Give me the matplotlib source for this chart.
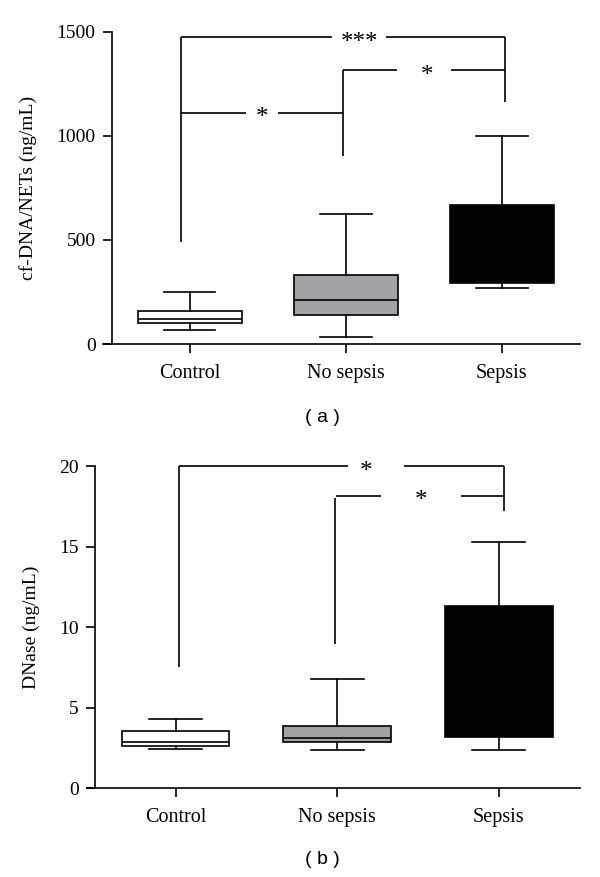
import matplotlib
matplotlib.use("Agg")
import matplotlib.pyplot as plt

# group names
groups = ["Control", "No sepsis", "Sepsis"]

# (a) cf-DNA/NETs (ng/mL): whisker low, q1, median, q3, whisker high
netsLow = [69, 33, 268]
netsQ1 = [102, 139, 293]
netsMed = [120, 212, 420]
netsQ3 = [158, 333, 666]
netsHigh = [249, 626, 1001]

# (b) DNase (ng/mL)
dnaseLow = [2.43, 2.35, 2.35]
dnaseQ1 = [2.6, 2.9, 3.21]
dnaseMed = [2.88, 3.13, 5.0]
dnaseQ3 = [3.56, 3.89, 11.31]
dnaseHigh = [4.28, 6.78, 15.26]

boxColors = ["white", "#a2a2a6", "black"]

# significance brackets: (x1, x2, y, label, text x, gap left, gap right)
netsBrackets = [(-0.054, 2.017, 1474, "***", 1.086, 0.909, 1.257),
                (0.983, 2.017, 1316, "*", 1.52, 1.331, 1.674),
                (-0.054, 0.983, 1112, "*", 0.466, 0.358, 0.566)]
# legs: (x, y top, y bottom)
netsLegs = [(-0.054, 1474, 491), (0.983, 1316, 905), (2.017, 1474, 1163)]

dnaseBrackets = [(0.024, 2.035, 20.0, "*", 1.18, 1.065, 1.415),
                 (0.994, 2.035, 18.17, "*", 1.52, 1.273, 1.763)]
dnaseLegs = [(0.024, 20.0, 7.5), (0.985, 18.0, 8.98), (2.035, 20.0, 17.2)]

serif = "Liberation Serif"
lw = 1.2

fig = plt.figure(figsize=(6, 8.77), dpi=100)
ax1 = fig.add_axes([0.186, 0.6077, 0.7805, 0.3561])
ax2 = fig.add_axes([0.158, 0.1011, 0.808, 0.3675])


def draw_panel(ax, low, q1, med, q3, high, brackets, legs, ymax, yticks, ylabel, labx, spine_left):
    stats = []
    for i in range(len(groups)):
        stats.append({"whislo": low[i], "q1": q1[i], "med": med[i], "q3": q3[i],
                      "whishi": high[i], "fliers": []})
    bp = ax.bxp(stats, positions=[0, 1, 2], widths=0.667, patch_artist=True,
                showfliers=False,
                boxprops=dict(linewidth=lw, edgecolor="black"),
                medianprops=dict(color="black", linewidth=lw),
                whiskerprops=dict(color="black", linewidth=lw),
                capprops=dict(color="black", linewidth=lw),
                capwidths=0.33)
    for patch, c in zip(bp["boxes"], boxColors):
        patch.set_facecolor(c)
    # brackets
    for x1, x2, y, lab, tx, g1, g2 in brackets:
        ax.plot([x1, g1], [y, y], color="black", lw=lw, clip_on=False, solid_capstyle="butt")
        ax.plot([g2, x2], [y, y], color="black", lw=lw, clip_on=False, solid_capstyle="butt")
        ax.annotate(lab, (tx, y), xytext=(0, -4), textcoords="offset points",
                    ha="center", va="center", fontsize=18, family=serif,
                    annotation_clip=False)
    for x, yt, yb in legs:
        ax.plot([x, x], [yt, yb], color="black", lw=lw, clip_on=False, solid_capstyle="butt")

    ax.set_xlim(-0.5, 2.5)
    ax.set_ylim(0, ymax)
    ax.set_xticks([0, 1, 2])
    ax.set_xticklabels(groups, family=serif, fontsize=14.5)
    ax.set_yticks(yticks)
    ax.set_yticklabels([str(t) for t in yticks], family=serif, fontsize=14)
    ax.tick_params(direction="out", length=6.5, width=lw, pad=5)
    ax.tick_params(axis="x", pad=8)
    ax.spines["top"].set_visible(False)
    ax.spines["right"].set_visible(False)
    ax.spines["left"].set_linewidth(lw)
    ax.spines["bottom"].set_linewidth(lw)
    ax.spines["bottom"].set_bounds(spine_left, 2.5)
    ax.set_ylabel(ylabel, family=serif, fontsize=14)
    ax.yaxis.set_label_coords(labx, 0.5)


draw_panel(ax1, netsLow, netsQ1, netsMed, netsQ3, netsHigh, netsBrackets, netsLegs,
           1500, [0, 500, 1000, 1500], "cf-DNA/NETs (ng/mL)", -0.16, -0.558)
draw_panel(ax2, dnaseLow, dnaseQ1, dnaseMed, dnaseQ3, dnaseHigh, dnaseBrackets, dnaseLegs,
           20, [0, 5, 10, 15, 20], "DNase (ng/mL)", -0.113, -0.551)

fig.text(322 / 600, 1 - 417 / 877, "( a )", ha="center", va="center",
         family="Liberation Sans", fontsize=14)
fig.text(322 / 600, 1 - 860 / 877, "( b )", ha="center", va="center",
         family="Liberation Sans", fontsize=14)

fig.savefig("out.png", dpi=100)
